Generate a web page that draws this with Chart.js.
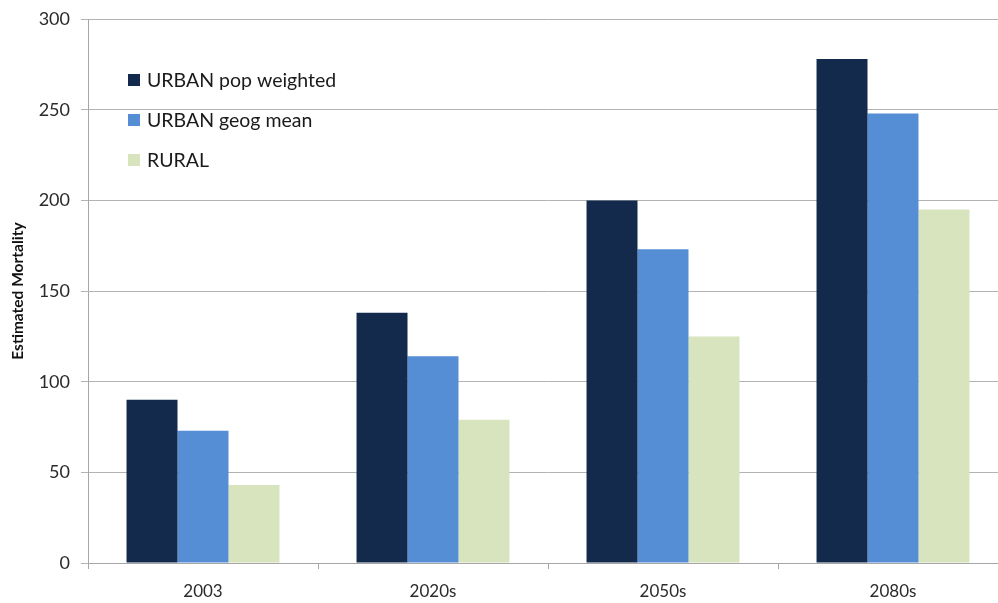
<!DOCTYPE html>
<html>
<head>
<meta charset="utf-8">
<script src="https://cdn.jsdelivr.net/npm/chart.js@4/dist/chart.umd.min.js"></script>
<style>
  html, body { margin: 0; padding: 0; background: #fff; overflow: hidden; }
  #wrap { position: relative; width: 1010px; height: 603px; }
</style>
</head>
<body>
<div id="wrap"><canvas id="chart"></canvas></div>
<script>
// Estimated heat mortality by period and location type
const PERIODS = ["2003", "2020s", "2050s", "2080s"];
const URBAN_POP_WEIGHTED = [90, 138, 200, 278];
const URBAN_GEOG_MEAN = [73, 114, 173, 248];
const RURAL = [43, 79, 125, 195];
const Y_TICKS = [0, 50, 100, 150, 200, 250, 300];

const COLORS = ["#132a4c", "#558ed5", "#d7e4bd"];
const FONT = "Lato, 'Open Sans', sans-serif";

// legend drawn inside the plot area, top left
const insideLegend = {
  id: "insideLegend",
  afterDraw(chart) {
    const { ctx } = chart;
    ctx.save();
    ctx.font = "19.5px " + FONT;
    ctx.textBaseline = "middle";
    chart.data.datasets.forEach((ds, i) => {
      const y = 80 + i * 40;
      ctx.fillStyle = ds.backgroundColor;
      ctx.fillRect(128, y - 6, 12, 12);
      ctx.fillStyle = "#1a1a1a";
      ctx.fillText(ds.label, 147, y + 1);
    });
    ctx.restore();
  },
};

const datasets = [
  { label: "URBAN pop weighted", data: URBAN_POP_WEIGHTED },
  { label: "URBAN geog mean", data: URBAN_GEOG_MEAN },
  { label: "RURAL", data: RURAL },
].map((d, i) => ({
  ...d,
  backgroundColor: COLORS[i],
  borderWidth: 0,
  barPercentage: 1,
  categoryPercentage: 0.665,
}));

new Chart(document.getElementById("chart"), {
  type: "bar",
  data: { labels: PERIODS, datasets },
  plugins: [insideLegend],
  options: {
    responsive: true,
    maintainAspectRatio: false,
    animation: false,
    layout: { padding: { top: 18, right: 2, left: 0, bottom: 0 } },
    plugins: { legend: { display: false }, tooltip: { enabled: false } },
    scales: {
      x: {
        afterFit(scale) { scale.height = 40; },
        grid: {
          offset: true,
          drawOnChartArea: false,
          drawTicks: true,
          tickLength: 6,
          color: "#a6a6a6",
        },
        border: { color: "#a6a6a6", width: 1 },
        ticks: { color: "#2b2b2b", font: { family: FONT, size: 17 }, padding: 12 },
      },
      y: {
        min: 0,
        max: 300,
        afterFit(scale) { scale.width = 88; },
        afterBuildTicks(scale) { scale.ticks = Y_TICKS.map(v => ({ value: v })); },
        grid: { color: "#b3b3b3", tickLength: 7 },
        border: { color: "#a6a6a6", width: 1 },
        ticks: { color: "#2b2b2b", font: { family: FONT, size: 18, lineHeight: 0.9 }, padding: 11 },
        title: {
          display: true,
          text: "Estimated Mortality",
          color: "#111",
          font: { family: FONT, size: 15.5, weight: "bold" },
          padding: { top: 9, bottom: 4 },
        },
      },
    },
  },
});
</script>
</body>
</html>
